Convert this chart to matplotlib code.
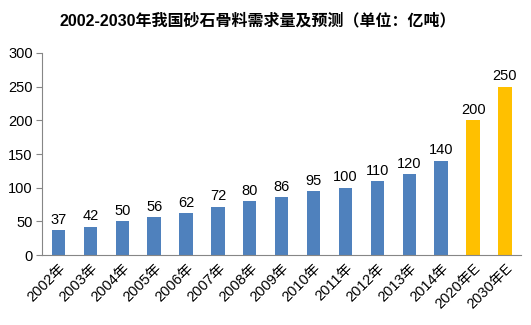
import matplotlib.pyplot as plt


# DATOS

anios = [
    "2002年", "2003年", "2004年", "2005年", "2006年",
    "2007年", "2008年", "2009年", "2010年", "2011年",
    "2012年", "2013年", "2014年", "2020年E", "2030年E"
]

demanda = [37, 42, 50, 56, 62, 72, 80, 86, 95, 100, 110, 120, 140, 200, 250]

es_prevision = [False] * 13 + [True, True]

titulo = "2002-2030年我国砂石骨料需求量及预测（单位：亿吨）"


# ESTILO

AZUL = "#4F81BD"
AMARILLO = "#FFC000"
GRIS = "#868686"

plt.rcParams["font.family"] = ["Liberation Sans", "Noto Sans CJK SC"]

colores = [AMARILLO if p else AZUL for p in es_prevision]


# GRÁFICO

fig = plt.figure(figsize=(5.31, 3.25), dpi=100)
ax = fig.add_axes([0.080, 0.215, 0.901, 0.622])

x = list(range(len(anios)))

barras = ax.bar(x, demanda, width=0.42, color=colores)

for xi, valor in zip(x, demanda):
    ax.text(
        xi, valor + 5, str(valor),
        ha="center", va="bottom", fontsize=10.5
    )

ax.set_xlim(-0.5, len(anios) - 0.5)
ax.set_ylim(0, 300)
ax.set_yticks(range(0, 301, 50))
ax.set_xticks(x)
ax.set_xticklabels(anios, rotation=45, ha="right", rotation_mode="anchor",
                   fontsize=10.5)
ax.tick_params(axis="y", labelsize=10.5, length=4, color=GRIS, pad=3)
ax.tick_params(axis="x", length=0, pad=4)

for lado in ["top", "right"]:
    ax.spines[lado].set_visible(False)

ax.spines["left"].set_color(GRIS)
ax.spines["bottom"].set_color(GRIS)

fig.text(
    0.485, 0.936, titulo,
    ha="center", va="center", fontsize=11.5, fontweight="bold",
    family=["Liberation Sans", "Noto Sans CJK SC"]
)

fig.savefig("out.png", dpi=100)
plt.close()
